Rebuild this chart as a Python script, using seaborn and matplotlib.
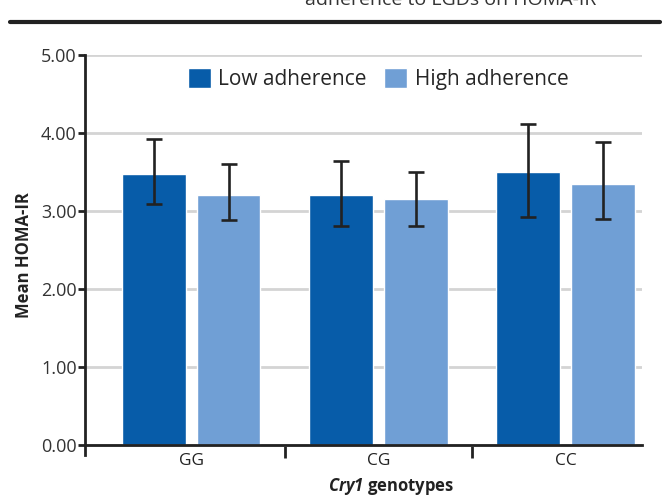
import matplotlib.pyplot as plt
import pandas as pd
import seaborn as sns

genotypes = ["GG", "CG", "CC"]
groups = ["Low adherence", "High adherence"]
low_mean = [3.47, 3.21, 3.50]
high_mean = [3.21, 3.15, 3.35]
low_upper = [3.92, 3.64, 4.12]
low_lower = [3.09, 2.81, 2.92]
high_upper = [3.60, 3.50, 3.88]
high_lower = [2.88, 2.81, 2.90]
y_ticks = [0, 1, 2, 3, 4, 5]


def main():
    sns.set_theme(style="white")
    plt.rcParams["font.family"] = ["Open Sans", "DejaVu Sans"]
    plt.rcParams["mathtext.fontset"] = "custom"
    plt.rcParams["mathtext.bfit"] = "Open Sans:bold:italic"

    df = pd.DataFrame({
        "genotype": genotypes * 2,
        "group": [groups[0]] * 3 + [groups[1]] * 3,
        "mean": low_mean + high_mean,
        "upper": low_upper + high_upper,
        "lower": low_lower + high_lower,
    })

    fig = plt.figure(figsize=(6.65, 4.97), dpi=100)
    ax = fig.add_axes([0.128, 0.0845, 0.8376, 0.8045])

    palette = {"Low adherence": "#075ca9", "High adherence": "#709fd5"}
    sns.barplot(data=df, x="genotype", y="mean", hue="group", order=genotypes,
                hue_order=groups, palette=palette, width=0.8, gap=0.15,
                saturation=1, errorbar=None, ax=ax, zorder=2)

    # error bars placed on the bar centres seaborn drew
    for container, grp in zip(ax.containers, groups):
        sub = df[df["group"] == grp].set_index("genotype").loc[genotypes]
        xs = [p.get_x() + p.get_width() / 2 for p in container.patches]
        ax.errorbar(xs, sub["mean"],
                    yerr=[sub["mean"] - sub["lower"], sub["upper"] - sub["mean"]],
                    fmt="none", ecolor="#222222", elinewidth=1.9, capsize=5.5,
                    capthick=1.9, zorder=3)

    ax.set_ylim(-0.13, 5.0)
    ax.set_xlim(-0.567, 2.41)
    ax.set_yticks(y_ticks)
    ax.set_yticklabels([f"{v:.2f}" for v in y_ticks], fontsize=13, color="#333333")
    ax.yaxis.grid(True, color="#d4d4d4", linewidth=2)
    ax.set_axisbelow(True)

    for s in ["top", "right"]:
        ax.spines[s].set_visible(False)
    ax.spines["left"].set_color("#222222")
    ax.spines["left"].set_linewidth(2)
    ax.spines["bottom"].set_position(("data", 0))
    ax.spines["bottom"].set_color("#222222")
    ax.spines["bottom"].set_linewidth(2)

    ax.tick_params(axis="y", left=True, length=5, width=2, color="#222222", pad=1)
    ax.tick_params(axis="x", which="major", bottom=False, length=0, pad=6,
                   labelsize=12.5, labelcolor="#222222")
    ax.set_xticks([0.5, 1.5], minor=True)
    ax.tick_params(axis="x", which="minor", bottom=True, direction="out",
                   length=9, width=2, color="#222222")

    ax.set_xlabel(r"$\bfit{Cry1}$ genotypes", fontsize=12, fontweight="bold",
                  color="#222222")
    ax.xaxis.set_label_coords(0.549, -0.053)
    ax.set_ylabel("Mean HOMA-IR", fontsize=12, fontweight="bold",
                  color="#222222", labelpad=6)

    ax.legend(loc="upper center", bbox_to_anchor=(0.526, 1.016), ncol=2, frameon=False,
              fontsize=15, handlelength=1.1, handleheight=1.1, columnspacing=0.85,
              handletextpad=0.35)

    fig.lines.append(plt.Line2D([0.015, 0.993], [0.956, 0.956], color="#222222",
                                linewidth=3, transform=fig.transFigure))
    fig.text(0.677, 1.0, "adherence to LGDs on HOMA-IR", ha="center", va="center",
             fontsize=14, color="#333333")

    fig.savefig("out.png", dpi=100)


if __name__ == "__main__":
    main()
